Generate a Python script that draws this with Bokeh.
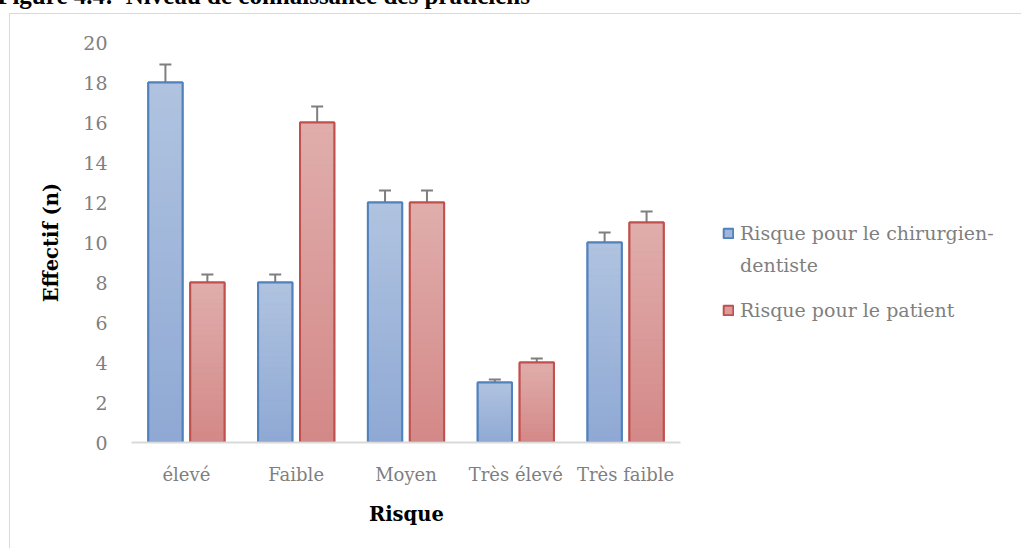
from bokeh.plotting import figure
from bokeh.models import (ColumnDataSource, Range1d, FixedTicker, Title,
                          Whisker, TeeHead, Legend, LegendItem, Div)
from bokeh.layouts import column
from bokeh.transform import dodge
from bokeh.embed import file_html
from bokeh.resources import INLINE

# ---------------- data ----------------
categories = ["élevé", "Faible", "Moyen", "Très élevé", "Très faible"]
chirurgien = [18, 8, 12, 3, 10]
patient = [8, 16, 12, 4, 11]
err_chirurgien = [0.9, 0.4, 0.6, 0.15, 0.5]
err_patient = [0.4, 0.8, 0.6, 0.2, 0.55]
y_ticks = [0, 2, 4, 6, 8, 10, 12, 14, 16, 18, 20]
legend_lines_1 = ["Risque pour le chirurgien-", "dentiste"]
legend_lines_2 = ["Risque pour le patient"]
x_title = "Risque"
y_title = "Effectif (n)"
doc_title = "Figure 4.4:\u00a0 Niveau de connaissance des praticiens"

# ---------------- layout / style ----------------
SERIF = "DejaVu Serif"
GRAY_TXT = "#7f7f7f"
styles = [
    dict(off=-0.191, line="#4f81bd", top=(176, 195, 224), bottom=(143, 169, 212), mid="#9fb5da"),
    dict(off=0.191, line="#c0504d", top=(224, 174, 172), bottom=(211, 136, 135), mid="#d99c9b"),
]
BAR_W = 0.312
N_SLICES = 30

W, H = 1012, 535
BORDER_L, BORDER_T, BORDER_B = 121, 28, 107
CAT_AREA_PX = 549                         # pixel width of the category axis
CAT_PX = CAT_AREA_PX / len(categories)    # pixel width of one category slot
FRAME_W = W - BORDER_L                    # frame runs to the right edge (legend inside)
x_end = FRAME_W / CAT_PX

p = figure(width=W, height=H,
           x_range=Range1d(0, x_end), y_range=Range1d(0, 20),
           output_backend="svg", toolbar_location=None,
           min_border_left=BORDER_L, min_border_right=0,
           min_border_top=BORDER_T, min_border_bottom=BORDER_B,
           margin=(0, 0, 0, 9),
           styles={"border-top": "1px solid #d9d9d9", "border-left": "1px solid #d9d9d9"})
p.outline_line_color = None
p.xgrid.grid_line_color = None
p.ygrid.grid_line_color = None
p.background_fill_color = "white"
p.border_fill_color = "white"


def hexc(rgb):
    return "#%02x%02x%02x" % tuple(int(round(c)) for c in rgb)


x_pos = [i + 0.5 for i in range(len(categories))]   # slot centres on the axis

solids = []
for values, errs, st in zip([chirurgien, patient], [err_chirurgien, err_patient], styles):
    base_src = ColumnDataSource(dict(x=x_pos, val=values))
    solid = p.vbar(x=dodge("x", st["off"]), top="val", bottom=0,
                   width=BAR_W, source=base_src, fill_color=st["mid"],
                   line_color=st["line"], line_width=2)
    solids.append(solid)
    # vertical gradient inside each bar, derived from the bar's value
    xs, bots, tops, cols = [], [], [], []
    for xp, v in zip(x_pos, values):
        for i in range(N_SLICES):
            t = (i + 0.5) / N_SLICES
            col = [b + (tp - b) * t for b, tp in zip(st["bottom"], st["top"])]
            xs.append(xp)
            bots.append(v * i / N_SLICES)
            tops.append(v * (i + 1) / N_SLICES)
            cols.append(hexc(col))
    grad_src = ColumnDataSource(dict(x=xs, b=bots, t=tops, c=cols))
    p.vbar(x=dodge("x", st["off"]), bottom="b", top="t",
           width=BAR_W, source=grad_src, fill_color="c", line_color="c", line_width=0.6)
    p.vbar(x=dodge("x", st["off"]), top="val", bottom=0,
           width=BAR_W, source=base_src, fill_color=None,
           line_color=st["line"], line_width=2)
    err_src = ColumnDataSource(dict(x=x_pos,
                                    upper=[v + e for v, e in zip(values, errs)],
                                    lower=[v - e for v, e in zip(values, errs)]))
    wh = Whisker(base=dodge("x", st["off"]), upper="upper", lower="lower",
                 source=err_src, line_color="#7f7f7f", line_width=2,
                 upper_head=TeeHead(size=12, line_color="#7f7f7f", line_width=2),
                 lower_head=TeeHead(size=12, line_color="#7f7f7f", line_width=2))
    p.add_layout(wh)

# invisible renderer for the wrapped second legend line (no swatch)
blank = p.vbar(x=[], top=[], width=BAR_W, fill_alpha=0, line_alpha=0)

# ---------------- axes ----------------
p.yaxis.ticker = FixedTicker(ticks=y_ticks)
p.yaxis.axis_line_color = None
p.yaxis.major_tick_line_color = None
p.yaxis.minor_tick_line_color = None
p.yaxis.major_label_standoff = 18
p.yaxis.major_label_text_font = SERIF
p.yaxis.major_label_text_font_size = "19px"
p.yaxis.major_label_text_color = GRAY_TXT
p.yaxis.axis_label = y_title
p.yaxis.axis_label_text_font = SERIF
p.yaxis.axis_label_text_font_style = "bold"
p.yaxis.axis_label_text_font_size = "19.5px"
p.yaxis.axis_label_text_color = "black"
p.yaxis.axis_label_standoff = 17

p.xaxis.ticker = FixedTicker(ticks=x_pos)
p.xaxis.major_label_overrides = {xp: c for xp, c in zip(x_pos, categories)}
p.xaxis.bounds = (0, len(categories))
p.xaxis.axis_line_color = "#d9d9d9"
p.xaxis.axis_line_width = 2
p.xaxis.major_tick_line_color = None
p.xaxis.minor_tick_line_color = None
p.xaxis.major_label_standoff = 15
p.xaxis.major_label_text_font = SERIF
p.xaxis.major_label_text_font_size = "18px"
p.xaxis.major_label_text_color = GRAY_TXT

# x-axis title, centred under the category axis (not the wider frame)
TITLE_TEXT_W = 74
xt = Title(text=x_title, align="left", offset=CAT_AREA_PX / 2 - TITLE_TEXT_W / 2,
           text_font=SERIF, text_font_style="bold", text_font_size="19.5px",
           text_color="black", standoff=26)
p.add_layout(xt, "below")

# ---------------- legend (inside the wide frame) ----------------
leg_common = dict(label_text_font=SERIF, label_text_font_size="19px",
                  label_text_color=GRAY_TXT, glyph_width=12, glyph_height=12,
                  label_standoff=6, padding=0, margin=0,
                  border_line_color=None, background_fill_alpha=0)
legend1 = Legend(items=[LegendItem(label=legend_lines_1[0], renderers=[solids[0]]),
                        LegendItem(label=legend_lines_1[1], renderers=[blank])],
                 location=(591, 166), spacing=10, **leg_common)
legend2 = Legend(items=[LegendItem(label=legend_lines_2[0], renderers=[solids[1]])],
                 location=(591, 121), spacing=10, **leg_common)
p.add_layout(legend1, "center")
p.add_layout(legend2, "center")

# ---------------- cropped document caption above the chart ----------------
title_html = (
    '<div style="position:relative;width:1023px;height:13px;overflow:hidden;">'
    '<div style="position:absolute;right:493px;top:-17px;white-space:nowrap;'
    "font-family:'Liberation Serif';font-weight:bold;font-size:25px;line-height:26px;"
    'color:black;">' + doc_title + '</div></div>'
)
cap = Div(text=title_html, width=1023, height=13, margin=0)

layout = column(cap, p, spacing=0)
open("out.html", "w").write(file_html(layout, INLINE))
